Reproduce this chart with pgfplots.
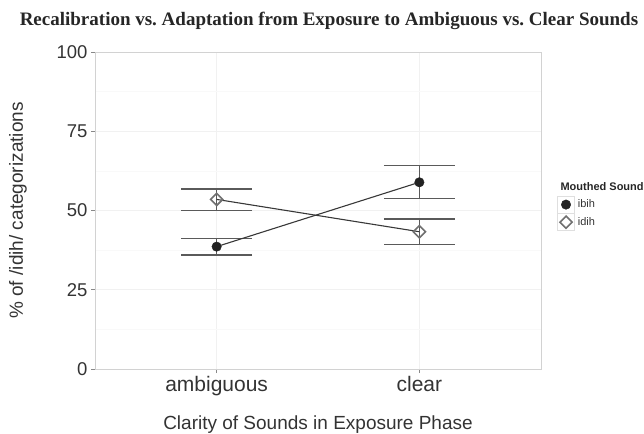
\documentclass[border=0pt]{standalone}
\usepackage{pgfplots}
\usepackage{pgfplotstable}
\pgfplotsset{compat=1.18}
\usepackage{fontspec}
\setmainfont{Liberation Serif}
\newfontfamily\arial{Liberation Sans}
\definecolor{errc}{HTML}{5A5A5A}
\definecolor{linec}{HTML}{383838}
\definecolor{ptc}{HTML}{222222}
\definecolor{diac}{HTML}{707070}
\definecolor{tickc}{HTML}{888888}
\frenchspacing

\pgfplotstableread{
x y ep em
1 38.6 2.6 2.6
2 58.9 5.2 5.2
}\ibih
\pgfplotstableread{
x y ep em
1 53.5 3.3 3.6
2 43.3 4.0 4.1
}\idih

\begin{document}
\begin{tikzpicture}
\useasboundingbox (0pt,0pt) rectangle (644pt,433pt);
\begin{axis}[
  at={(95pt,64pt)}, anchor=south west,
  scale only axis, width=446pt, height=317pt,
  xmin=0.4, xmax=2.6, ymin=0, ymax=100,
  xtick={1,2}, xticklabels={ambiguous,clear},
  ytick={0,25,50,75,100},
  minor ytick={12.5,37.5,62.5,87.5},
  grid=both,
  major grid style={color=gray!11, line width=0.8pt},
  minor grid style={color=gray!5, line width=0.6pt},
  axis line style={color=gray!35, line width=0.8pt},
  tick pos=left, tick align=outside,
  major tick length=4pt, minor tick length=0pt,
  tick style={color=tickc, line width=0.8pt},
  /pgf/number format/assume math mode=true,
  yticklabel style={font=\arial\fontsize{18.5}{20}\selectfont, color=black!80},
  xticklabel style={font=\arial\fontsize{21}{24}\selectfont, color=black!80},
  ylabel={\% of /idih/ categorizations},
  ylabel style={font=\arial\fontsize{19}{22}\selectfont, color=black!80, at={(axis description cs:-0.1726,0.5)}, anchor=center},
  xlabel={Clarity of Sounds in Exposure Phase},
  xlabel style={font=\arial\fontsize{19}{22}\selectfont, color=black!80, at={(axis description cs:0.5,-0.1924)}, anchor=base},
  clip=false,
  legend style={at={(axis description cs:1.0359,0.547)}, anchor=north west, draw=none, fill=none,
    font=\arial\fontsize{11}{13}\selectfont, text=black!80, inner sep=0pt, row sep=0pt,
    nodes={inner sep=1pt}, /tikz/every odd column/.style={column sep=2pt}},
  legend cell align=left,
  legend image code/.code={
    \draw[gray!25, fill=white, line width=0.6pt, solid] (0pt,-8.5pt) rectangle (17pt,8.5pt);
    \path[only marks] plot coordinates {(8.5pt,0pt)};
  },
]
\addplot[forget plot, draw=none, mark=none,
  error bars/.cd, y dir=both, y explicit,
  error bar style={draw=errc, line width=1.3pt, solid},
  error mark options={rotate=90, mark size=35.5pt, draw=errc, line width=1.3pt}]
  table[x=x, y=y, y error plus=ep, y error minus=em] {\ibih};
\addplot[forget plot, draw=none, mark=none,
  error bars/.cd, y dir=both, y explicit,
  error bar style={draw=errc, line width=1.3pt, solid},
  error mark options={rotate=90, mark size=35.5pt, draw=errc, line width=1.3pt}]
  table[x=x, y=y, y error plus=ep, y error minus=em] {\idih};
\addplot[color=linec, line width=1.1pt, mark=*, mark size=4.7pt,
  mark options={fill=ptc, draw=ptc, solid, line width=0.5pt}]
  table[x=x, y=y] {\ibih};
\addlegendentry{ibih}
\addplot[color=linec, line width=1.1pt, mark=square, mark size=4.3pt,
  mark options={rotate=45, draw=diac, fill=white, line width=1.6pt, solid}]
  table[x=x, y=y] {\idih};
\addlegendentry{idih}
\end{axis}
\node[anchor=base west, font=\arial\bfseries\fontsize{11}{13}\selectfont, text=black!85] at (557pt,242pt) {Mouthed Sound};
\node[anchor=base, font=\bfseries\fontsize{19}{21}\selectfont, text=black!85] at (329pt,407pt) {Recalibration vs. Adaptation from Exposure to Ambiguous vs. Clear Sounds};
\end{tikzpicture}
\end{document}
